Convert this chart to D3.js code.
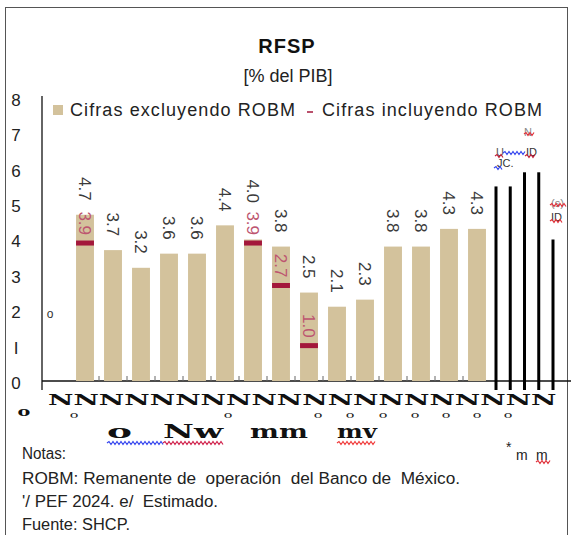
<!DOCTYPE html>
<html>
<head>
<meta charset="utf-8">
<script src="https://cdn.jsdelivr.net/npm/d3@7"></script>
<style>
  body { margin: 0; background: #fff; }
  svg { display: block; font-family: "Liberation Sans", Arial, sans-serif; }
  text { white-space: pre; }
</style>
</head>
<body>
<svg id="chart" width="571" height="535"></svg>
<script>
// data
var years = ['2009', '2010', '2011', '2012', '2013', '2014', '2015', '2016',
  '2017', '2018', '2019', '2020', '2021', '2022', '2023']
var excl = [4.7, 3.7, 3.2, 3.6, 3.6, 4.4, 4.0, 3.8, 2.5, 2.1, 2.3, 3.8, 3.8, 4.3, 4.3]
var incl = [3.9, null, null, null, null, null, 3.9, 2.7, 1.0, null, null, null, null, null, null]
var extraCats = ['2024a', '2024b', '2024c', '2024d', '2024e']
var extraVals = [5.5, 5.5, 5.9, 5.9, 4.0]
var yTicks = [0, 1, 2, 3, 4, 5, 6, 7, 8]
var yTickLabels = ['0', 'I', '2', '3', '4', '5', '6', '7', '8']
var legendLabels = ['Cifras excluyendo ROBM', 'Cifras incluyendo ROBM']
var notes = ['Notas:', 'ROBM: Remanente de  operación  del Banco de  México.',
  "'/ PEF 2024. e/  Estimado.", 'Fuente: SHCP.']

var TAN = '#d3c29c'
var MARK = '#a3173b'
var RED_TXT = '#bd5570'

var svg = d3.select('#chart')

// frame
svg.append('rect')
  .attr('x', 5.5).attr('y', 7.5)
  .attr('width', 562).attr('height', 540)
  .style('fill', 'none').style('stroke', '#555')

// scales
var y = d3.scaleLinear().domain([0, 8]).range([381, 98])
var x = d3.scaleBand().domain(years).range([71, 491])
  .paddingInner(0.36).paddingOuter(0.18)
var x2 = d3.scalePoint().domain(extraCats).range([496, 553])

// title
svg.append('text').attr('x', 287).attr('y', 53)
  .attr('text-anchor', 'middle')
  .style('font-size', '20px').style('font-weight', 'bold')
  .style('letter-spacing', '1px').style('fill', '#111')
  .text('RFSP')
svg.append('text').attr('x', 288).attr('y', 82)
  .attr('text-anchor', 'middle')
  .style('font-size', '18px').style('fill', '#222')
  .text('[% del PIB]')

// legend
svg.append('rect').attr('x', 53).attr('y', 105).attr('width', 10).attr('height', 10)
  .style('fill', TAN)
svg.append('text').attr('x', 70).attr('y', 116)
  .attr('textLength', 225).attr('lengthAdjust', 'spacing')
  .style('font-size', '18px').style('fill', '#222')
  .text(legendLabels[0])
svg.append('line').attr('x1', 307).attr('x2', 313).attr('y1', 112).attr('y2', 112)
  .style('stroke', MARK).style('stroke-width', 1.5)
svg.append('text').attr('x', 322).attr('y', 116)
  .attr('textLength', 220).attr('lengthAdjust', 'spacing')
  .style('font-size', '18px').style('fill', '#222')
  .text(legendLabels[1])

// y axis labels (drawn far left, no tick marks)
var yAxis = d3.axisLeft(y)
  .tickValues(yTicks)
  .tickSize(0)
  .tickPadding(0)
  .tickFormat(function (d, i) { return yTickLabels[i] })
var gy = svg.append('g').attr('transform', 'translate(22,2)').call(yAxis)
gy.select('.domain').remove()
gy.selectAll('text')
  .attr('text-anchor', 'middle').attr('x', -6)
  .style('font-family', '"Liberation Sans", Arial, sans-serif')
  .style('font-size', '17px').style('fill', '#222')

// axis lines
svg.append('line').attr('x1', 42).attr('x2', 42).attr('y1', 96).attr('y2', 390)
  .style('stroke', '#111').style('stroke-width', 1.3)
svg.append('line').attr('x1', 42).attr('x2', 571).attr('y1', y(0)).attr('y2', y(0))
  .style('stroke', '#111').style('stroke-width', 1.3)

svg.append('text').attr('x', 50).attr('y', 318)
  .attr('text-anchor', 'middle')
  .style('font-size', '12px').style('fill', '#333')
  .text('o')

// tan bars
svg.selectAll('rect.bar').data(excl).enter().append('rect')
  .attr('class', 'bar')
  .attr('x', function (d, i) { return x(years[i]) })
  .attr('width', x.bandwidth())
  .attr('y', function (d) { return y(d) })
  .attr('height', function (d) { return y(0) - y(d) })
  .style('fill', TAN)

// ticks between categories
var step = x.step()
var tickXs = years.slice(1).map(function (c) { return x(c) - (step - x.bandwidth()) / 2 })
svg.selectAll('line.xtick').data(tickXs).enter().append('line')
  .attr('class', 'xtick')
  .attr('x1', function (d) { return d }).attr('x2', function (d) { return d })
  .attr('y1', y(0) - 5).attr('y2', y(0))
  .style('stroke', '#666')

// ROBM markers
var inclData = incl.map(function (v, i) { return { v: v, i: i } })
  .filter(function (d) { return d.v !== null })
svg.selectAll('rect.mark').data(inclData).enter().append('rect')
  .attr('class', 'mark')
  .attr('x', function (d) { return x(years[d.i]) })
  .attr('width', x.bandwidth())
  .attr('y', function (d) { return y(d.v) - 2.5 })
  .attr('height', 5)
  .style('fill', MARK)

// labels, rotated to read downward
function blackEnd (v, i) {
  var e = y(v) - 14
  if (incl[i] !== null) e = Math.min(e, y(incl[i]) - 40)
  return e
}
svg.selectAll('text.val').data(excl).enter().append('text')
  .attr('class', 'val')
  .attr('transform', function (d, i) {
    return 'translate(' + (x(years[i]) + x.bandwidth() / 2) + ',' + blackEnd(d, i) + ')rotate(90)'
  })
  .attr('dy', '0.35em')
  .attr('text-anchor', 'end')
  .style('font-size', '17px').style('fill', '#3a3a3a')
  .text(function (d) { return d3.format('.1f')(d) })

svg.selectAll('text.rval').data(inclData).enter().append('text')
  .attr('class', 'rval')
  .attr('transform', function (d) {
    return 'translate(' + (x(years[d.i]) + x.bandwidth() / 2) + ',' + (y(d.v) - 8) + ')rotate(90)'
  })
  .attr('dy', '0.35em')
  .attr('text-anchor', 'end')
  .style('font-size', '17px').style('fill', RED_TXT)
  .text(function (d) { return d3.format('.1f')(d.v) })

// black thin bars
svg.selectAll('line.thin').data(extraVals).enter().append('line')
  .attr('class', 'thin')
  .attr('x1', function (d, i) { return x2(extraCats[i]) })
  .attr('x2', function (d, i) { return x2(extraCats[i]) })
  .attr('y1', function (d) { return y(d) })
  .attr('y2', 390)
  .style('stroke', '#000').style('stroke-width', 3)

// squiggle helper
function wave (x1, x2, yy, color) {
  var p = 'M' + x1 + ',' + yy
  var up = true
  for (var xx = x1 + 2; xx <= x2; xx += 2) {
    p += 'L' + xx + ',' + (yy + (up ? -1.5 : 1.5))
    up = !up
  }
  svg.append('path').attr('d', p)
    .style('fill', 'none').style('stroke', color).style('stroke-width', 1.2)
}

// broken little labels over the thin bars
var glitch = svg.append('g').style('font-size', '11px')
glitch.append('text').attr('x', 524).attr('y', 136).style('fill', '#888').text('N')
wave(524, 534, 134, '#e0303a')
glitch.append('text').attr('x', 496).attr('y', 156).style('fill', '#555').text('U')
wave(495, 503, 156, '#c0203a')
wave(503, 525, 153, '#3344ee')
glitch.append('text').attr('x', 526).attr('y', 156).style('fill', '#333').text('ID')
wave(525, 536, 156, '#c0203a')
glitch.append('text').attr('x', 497).attr('y', 167).style('fill', '#333').text('JC.')
wave(494, 502, 168, '#3344ee')
glitch.append('text').attr('x', 551).attr('y', 207).style('fill', '#888').text('(s)')
wave(550, 566, 205, '#e0303a')
glitch.append('text').attr('x', 551).attr('y', 221).style('fill', '#333').text('ID')
wave(550, 562, 221, '#e0303a')

// scrambled category labels, stretched wide
var allCats = years.concat(extraCats)
var nRow = svg.append('text')
  .style('font-family', '"DejaVu Serif", serif').style('font-weight', 'bold')
  .style('font-size', '14px').style('fill', '#111')
  .text(allCats.map(function () { return 'N' }).join(''))
var nLen = nRow.node().getComputedTextLength()
nRow.attr('transform', 'translate(48,405)scale(' + (509 / nLen) + ',1)')

var oRow = [74, 228, 318, 350, 383, 415, 446, 477, 508]
svg.append('text').attr('transform', 'translate(24,416)scale(1.6,1)')
  .attr('text-anchor', 'middle')
  .style('font-family', '"DejaVu Serif", serif').style('font-weight', 'bold')
  .style('font-size', '12px').style('fill', '#111')
  .text('o')
svg.selectAll('text.orow').data(oRow).enter().append('text')
  .attr('class', 'orow')
  .attr('transform', function (d) { return 'translate(' + d + ',418)scale(1.6,1)' })
  .attr('text-anchor', 'middle')
  .style('font-family', '"DejaVu Serif", serif')
  .style('font-size', '9px').style('fill', '#222')
  .text('o')

var bigRow = [['o', 107, 25], ['Nw', 163, 60], ['mm', 250, 58], ['mv', 337, 40]]
svg.selectAll('text.big').data(bigRow).enter().append('text')
  .attr('class', 'big')
  .style('font-family', '"DejaVu Serif", serif').style('font-weight', 'bold')
  .style('font-size', '18px').style('fill', '#111')
  .text(function (d) { return d[0] })
  .attr('transform', function (d) {
    var w = this.getComputedTextLength()
    return 'translate(' + d[1] + ',438)scale(' + (d[2] / w) + ',1)'
  })
wave(107, 163, 443, '#3344ee')
wave(163, 223, 443, '#d0204a')
wave(337, 375, 443, '#f03a3a')

svg.append('text').attr('x', 506).attr('y', 452).style('font-size', '14px').style('fill', '#222').text('*')
svg.append('text').attr('x', 516).attr('y', 460).style('font-size', '14px').style('fill', '#222').text('m')
svg.append('text').attr('x', 536).attr('y', 460).style('font-size', '14px').style('fill', '#222').text('m')
wave(536, 550, 462, '#e0303a')

// notes
var noteY = [459, 484, 507, 530]
var noteW = [44, 438, 196, 108]
svg.selectAll('text.note').data(notes).enter().append('text')
  .attr('class', 'note')
  .attr('x', 22).attr('y', function (d, i) { return noteY[i] })
  .attr('textLength', function (d, i) { return noteW[i] }).attr('lengthAdjust', 'spacingAndGlyphs')
  .style('font-size', '16px').style('fill', '#222')
  .text(function (d) { return d })
</script>
</body>
</html>
